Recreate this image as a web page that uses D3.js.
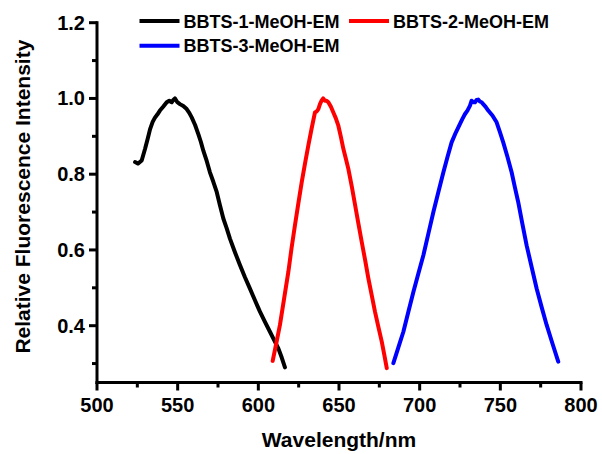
<!DOCTYPE html>
<html>
<head>
<meta charset="utf-8">
<script src="https://cdn.jsdelivr.net/npm/d3@7"></script>
<style>
  html, body { margin: 0; padding: 0; background: #fff; }
  svg { display: block; }
</style>
</head>
<body>
<svg id="chart" width="602" height="454"></svg>
<script>
// ---- data ----
const seriesNames = ["BBTS-1-MeOH-EM", "BBTS-2-MeOH-EM", "BBTS-3-MeOH-EM"];
const seriesColors = ["#000000", "#ff0000", "#0000ff"];

const bbts1 = [
  [523.6, 0.832], [525.5, 0.828], [527.7, 0.836], [529.8, 0.867], [531.5, 0.895],
  [532.9, 0.919], [534.5, 0.938], [536.0, 0.950], [537.5, 0.958], [539.0, 0.968],
  [541.0, 0.978], [543.2, 0.990], [544.8, 0.994], [546.3, 0.990], [547.3, 0.996],
  [548.3, 1.000], [549.8, 0.990], [551.4, 0.985], [553.5, 0.980], [555.6, 0.972],
  [557.2, 0.962], [558.7, 0.950], [560.8, 0.930], [562.8, 0.906], [564.4, 0.885],
  [565.9, 0.862], [568.0, 0.835], [570.0, 0.805], [572.1, 0.780], [574.2, 0.753],
  [576.2, 0.718], [578.3, 0.683], [580.4, 0.657], [582.4, 0.630], [585.5, 0.594],
  [588.6, 0.560], [591.7, 0.528], [594.8, 0.498], [597.9, 0.467], [601.0, 0.437],
  [604.1, 0.410], [607.2, 0.384], [609.8, 0.362], [612.4, 0.340], [614.5, 0.316],
  [616.5, 0.290]
];

const bbts2 = [
  [608.9, 0.307], [611.2, 0.355], [613.4, 0.402], [616.0, 0.472], [618.6, 0.542],
  [620.6, 0.605], [622.7, 0.665], [624.8, 0.723], [626.9, 0.779], [629.0, 0.830],
  [631.0, 0.876], [633.0, 0.920], [635.1, 0.963], [636.2, 0.966], [637.2, 0.972],
  [638.2, 0.985], [639.2, 0.994], [640.2, 1.000], [641.3, 0.994], [642.3, 0.994],
  [643.4, 0.990], [645.0, 0.978], [646.5, 0.963], [648.0, 0.948], [649.6, 0.928],
  [651.2, 0.898], [652.7, 0.867], [654.3, 0.840], [655.8, 0.814], [658.0, 0.766],
  [660.0, 0.718], [662.0, 0.670], [664.1, 0.621], [666.2, 0.573], [668.2, 0.525],
  [670.3, 0.480], [672.3, 0.437], [674.4, 0.397], [676.5, 0.358], [678.0, 0.325],
  [679.6, 0.288]
];

const bbts3 = [
  [683.7, 0.301], [686.8, 0.343], [689.9, 0.384], [693.0, 0.437], [696.1, 0.489],
  [699.2, 0.538], [702.3, 0.586], [705.4, 0.643], [708.5, 0.700], [711.6, 0.753],
  [714.7, 0.805], [717.2, 0.845], [719.8, 0.884], [722.4, 0.910], [725.0, 0.933],
  [726.5, 0.946], [728.1, 0.959], [729.6, 0.968], [731.2, 0.981], [732.2, 0.994],
  [733.3, 0.990], [734.3, 0.990], [735.3, 0.996], [736.3, 0.997], [737.3, 0.992],
  [738.4, 0.990], [739.4, 0.985], [740.9, 0.978], [742.5, 0.968], [745.1, 0.955],
  [747.7, 0.937], [749.7, 0.912], [751.8, 0.884], [754.4, 0.846], [757.0, 0.805],
  [759.0, 0.766], [761.1, 0.726], [763.7, 0.668], [766.3, 0.612], [769.4, 0.555],
  [772.5, 0.498], [775.6, 0.449], [778.7, 0.402], [782.3, 0.353], [785.9, 0.305]
];

const seriesData = [bbts1, bbts2, bbts3];

const xTickValues = [500, 550, 600, 650, 700, 750, 800];
const xMinorTicks = [525, 575, 625, 675, 725, 775];
const yTickValues = [0.4, 0.6, 0.8, 1.0, 1.2];
const yMinorTicks = [0.3, 0.5, 0.7, 0.9, 1.1];
const xLabel = "Wavelength/nm";
const yLabel = "Relative Fluorescence Intensity";

// ---- layout ----
const FONT = "Arial, 'Liberation Sans', sans-serif";
const svg = d3.select("#chart");
const x = d3.scaleLinear().domain([500, 800]).range([97, 581]);
const y = d3.scaleLinear().domain([0.25, 1.2]).range([382.5, 22.7]);
const x0 = x(500), y0 = y(0.25);
const aw = 3;

// curves
const lineGen = d3.line().x(d => x(d[0])).y(d => y(d[1]));
seriesData.forEach((data, i) => {
  svg.append("path")
    .attr("d", lineGen(data))
    .attr("fill", "none")
    .attr("stroke", seriesColors[i])
    .attr("stroke-width", 4)
    .attr("stroke-linejoin", "round")
    .attr("stroke-linecap", "round");
});

// axis lines
svg.append("rect").attr("x", x0 - aw / 2).attr("y", y0 - aw / 2)
  .attr("width", x(800) - x0 + aw).attr("height", aw).attr("fill", "#000");
svg.append("rect").attr("x", x0 - aw / 2).attr("y", y(1.2) - aw / 2)
  .attr("width", aw).attr("height", y0 - y(1.2) + aw).attr("fill", "#000");

// tick marks
xTickValues.forEach(v => svg.append("rect").attr("x", x(v) - aw / 2).attr("y", y0)
  .attr("width", aw).attr("height", 8).attr("fill", "#000"));
xMinorTicks.forEach(v => svg.append("rect").attr("x", x(v) - aw / 2).attr("y", y0)
  .attr("width", aw).attr("height", 5).attr("fill", "#000"));
yTickValues.forEach(v => svg.append("rect").attr("x", x0 - 8).attr("y", y(v) - aw / 2)
  .attr("width", 8).attr("height", aw).attr("fill", "#000"));
yMinorTicks.forEach(v => svg.append("rect").attr("x", x0 - 5).attr("y", y(v) - aw / 2)
  .attr("width", 5).attr("height", aw).attr("fill", "#000"));

// tick labels
const fx = d3.format("d"), fy = d3.format(".1f");
xTickValues.forEach(v => svg.append("text")
  .attr("x", x(v)).attr("y", y0 + 29)
  .attr("text-anchor", "middle")
  .attr("font-family", FONT).attr("font-weight", "bold").attr("font-size", 20).attr("fill", "#000")
  .text(fx(v)));
yTickValues.forEach(v => svg.append("text")
  .attr("x", x0 - 12).attr("y", y(v) + 7)
  .attr("text-anchor", "end")
  .attr("font-family", FONT).attr("font-weight", "bold").attr("font-size", 20).attr("fill", "#000")
  .text(fy(v)));

// axis titles
svg.append("text")
  .attr("x", (x0 + x(800)) / 2)
  .attr("y", 447)
  .attr("text-anchor", "middle")
  .attr("font-family", FONT).attr("font-weight", "bold").attr("font-size", 21).attr("fill", "#000")
  .text(xLabel);

svg.append("text")
  .attr("transform", `translate(30,${(y0 + y(1.2)) / 2 - 6}) rotate(-90)`)
  .attr("text-anchor", "middle")
  .attr("font-family", FONT).attr("font-weight", "bold").attr("font-size", 21).attr("fill", "#000")
  .text(yLabel);

// legend
const legendPos = [[139.5, 21], [349, 21], [139.5, 45.7]];
seriesNames.forEach((name, i) => {
  const [lx, ly] = legendPos[i];
  svg.append("line").attr("x1", lx).attr("x2", lx + 40).attr("y1", ly).attr("y2", ly)
    .attr("stroke", seriesColors[i]).attr("stroke-width", 4);
  svg.append("text").attr("x", lx + 44).attr("y", ly + 6.5)
    .attr("font-family", FONT).attr("font-weight", "bold").attr("font-size", 18).attr("fill", "#000")
    .text(name);
});
</script>
</body>
</html>
